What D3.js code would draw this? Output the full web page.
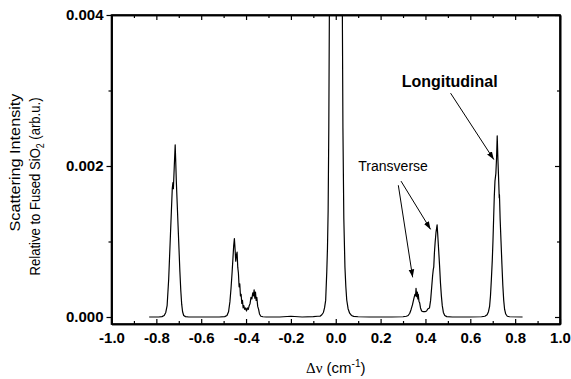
<!DOCTYPE html>
<html>
<head>
<meta charset="utf-8">
<script src="https://cdn.jsdelivr.net/npm/d3@7"></script>
<style>
  html, body { margin: 0; padding: 0; background: #fff; }
  svg { display: block; }
  text { font-family: "Liberation Sans", Arial, sans-serif; fill: #000; }
</style>
</head>
<body>
<svg id="chart" width="571" height="379"></svg>
<script>
// Brillouin spectrum: frequency shift (cm^-1) and scattering intensity
const shift = [
  -0.832, -0.79, -0.775, -0.765, -0.758, -0.752, -0.745, -0.741, -0.737, -0.733, -0.729, -0.726, -0.724,
  -0.720, -0.716, -0.714, -0.711, -0.707, -0.703, -0.699, -0.695, -0.691, -0.687, -0.683, -0.678, -0.670, -0.655,
  -0.60, -0.52, -0.495, -0.485, -0.478, -0.472, -0.467, -0.462, -0.458, -0.455, -0.452, -0.449, -0.446,
  -0.443, -0.440, -0.437, -0.434, -0.431, -0.428, -0.425, -0.422, -0.419, -0.416, -0.413, -0.410, -0.406,
  -0.402, -0.398, -0.394, -0.390, -0.386, -0.382, -0.378, -0.374, -0.370, -0.367, -0.364, -0.361, -0.358,
  -0.355, -0.352, -0.348, -0.344, -0.340, -0.334, -0.325, -0.31,
  -0.25, -0.20, -0.15, -0.10, -0.08, -0.07, -0.062, -0.055, -0.050, -0.045, -0.040, -0.037, -0.034, -0.031,
  -0.0285, -0.025, -0.02, -0.012, 0, 0.012, 0.02, 0.026, 0.0295, 0.032, 0.036, 0.041, 0.045, 0.049, 0.055,
  0.062, 0.07, 0.08, 0.10, 0.15, 0.25,
  0.30, 0.315, 0.323, 0.330, 0.336, 0.342, 0.348, 0.353, 0.356, 0.358, 0.361, 0.364, 0.366, 0.368, 0.371,
  0.374, 0.378, 0.383, 0.390, 0.398, 0.405, 0.409, 0.412, 0.418, 0.423, 0.428, 0.432, 0.435, 0.437, 0.440,
  0.443, 0.447, 0.452, 0.455, 0.459, 0.463, 0.467, 0.471, 0.475, 0.480, 0.486, 0.495, 0.52,
  0.60, 0.65, 0.665, 0.675, 0.681, 0.686, 0.690, 0.694, 0.698, 0.701, 0.704, 0.707, 0.710, 0.714, 0.717,
  0.720, 0.723, 0.726, 0.728, 0.729, 0.730, 0.733, 0.737, 0.741, 0.745, 0.749, 0.753, 0.758, 0.765, 0.775, 0.833
];
const intensity = [
  0, 0, 0.000005, 0.00002, 0.00006, 0.00015, 0.0005, 0.0008, 0.0011, 0.0014, 0.0017, 0.00178, 0.0017,
  0.0020, 0.00228, 0.0021, 0.0018, 0.0015, 0.0012, 0.0009, 0.0006, 0.00035, 0.00017, 0.00007, 0.00002, 0.000005, 0,
  0, 0, 0.000005, 0.00002, 0.00007, 0.0002, 0.00038, 0.0006, 0.0008, 0.00095, 0.00104, 0.0009, 0.00074,
  0.00082, 0.00086, 0.00066, 0.00058, 0.0004, 0.00044, 0.00028, 0.0003, 0.00018, 0.00022, 0.00012, 0.00015, 0.0001,
  0.00012, 0.00008, 0.00012, 0.0001, 0.00015, 0.00018, 0.00026, 0.00024, 0.00032, 0.00028, 0.00036, 0.00025, 0.00033,
  0.00022, 0.00026, 0.00014, 0.0001, 0.00004, 0.00001, 0.000003, 0,
  0, 0.00001, 0, 0.000005, 0.00001, 0.00001, 0.00003, 0.00006, 0.00012, 0.00022, 0.0006, 0.0009, 0.0014, 0.0025,
  0.004, 0.0065, 0.010, 0.015, 0.018, 0.015, 0.010, 0.0065, 0.004, 0.0025, 0.0013, 0.00066, 0.0004, 0.000225, 0.00011,
  0.00005, 0.00002, 0.000008, 0.000003, 0, 0,
  0.000003, 0.00001, 0.00002, 0.00005, 0.0001, 0.00016, 0.00024, 0.0003, 0.00028, 0.00038, 0.00027, 0.00033, 0.00024, 0.0003, 0.00021,
  0.00019, 0.00012, 0.00008, 0.00007, 0.00007, 0.00008, 0.0001, 0.00011, 0.00012, 0.00022, 0.0004, 0.00055, 0.00063, 0.00066, 0.00085,
  0.00098, 0.00112, 0.00122, 0.00108, 0.00088, 0.00068, 0.00045, 0.00028, 0.00015, 0.00006, 0.00002, 0.000005, 0,
  0, 0.000003, 0.00001, 0.00003, 0.00007, 0.00014, 0.00028, 0.0005, 0.00075, 0.001, 0.0013, 0.0016, 0.0018, 0.0019, 0.0021,
  0.0024, 0.0021, 0.00185, 0.00168, 0.00158, 0.00162, 0.0013, 0.001, 0.0007, 0.00042, 0.00022, 0.0001, 0.00004, 0.00001, 0.000003, 0
];

const xTicks = [-1.0, -0.8, -0.6, -0.4, -0.2, 0.0, 0.2, 0.4, 0.6, 0.8, 1.0];
const xMinorTicks = [-0.9, -0.7, -0.5, -0.3, -0.1, 0.1, 0.3, 0.5, 0.7, 0.9];
const yTicks = [0.000, 0.002, 0.004];
const yMinorTicks = [0.001, 0.003];

const xTitleSymbol = "\u0394\u03BD";
const xTitleUnit = " (cm";
const yTitleLine1 = "Scattering Intensity";
const yTitleLine2 = ["Relative to Fused SiO", "2", " (arb.u.)"];
const labelLongitudinal = "Longitudinal";
const labelTransverse = "Transverse";

const width = 571, height = 379;
const margin = { top: 15, right: 11, bottom: 55, left: 111.5 };

const svg = d3.select("#chart");

const x = d3.scaleLinear().domain([-1.0, 1.0]).range([margin.left, width - margin.right]);
const y = d3.scaleLinear().domain([-0.0000927, 0.004]).range([height - margin.bottom, margin.top]);

const fmtX = d => d.toFixed(1);
const fmtY = d => d.toFixed(3);

// clip region for the spectrum
svg.append("defs").append("clipPath").attr("id", "plotClip")
  .append("rect")
  .attr("x", margin.left).attr("y", margin.top)
  .attr("width", width - margin.left - margin.right)
  .attr("height", height - margin.top - margin.bottom);

const points = shift.map((s, i) => [s, intensity[i]]);
const line = d3.line().x(d => x(d[0])).y(d => y(d[1]));

svg.append("path")
  .datum(points)
  .attr("clip-path", "url(#plotClip)")
  .attr("fill", "none")
  .attr("stroke", "#000")
  .attr("stroke-width", 1.2)
  .attr("stroke-linejoin", "round")
  .attr("d", line);

// axes
const bottomY = height - margin.bottom;
const rightX = width - margin.right;

function styleAxis(g) {
  g.select(".domain").attr("stroke", "#000").attr("stroke-width", 1.6);
  g.selectAll(".tick line").attr("stroke", "#000").attr("stroke-width", 1.2);
}

svg.append("g").attr("transform", `translate(0,${bottomY})`)
  .call(d3.axisBottom(x).tickValues(xTicks).tickFormat(fmtX).tickSizeInner(-5).tickSizeOuter(0).tickPadding(8))
  .call(styleAxis)
  .call(g => g.selectAll("text").attr("font-size", 15).attr("font-weight", "bold")
    .attr("font-family", "Liberation Sans, Arial, sans-serif"));

svg.append("g").attr("transform", `translate(0,${bottomY})`)
  .call(d3.axisBottom(x).tickValues(xMinorTicks).tickFormat("").tickSizeInner(-3).tickSizeOuter(0))
  .call(styleAxis);

svg.append("g").attr("transform", `translate(0,${margin.top})`)
  .call(d3.axisTop(x).tickValues(xTicks).tickFormat("").tickSizeInner(-5).tickSizeOuter(0))
  .call(styleAxis);

svg.append("g").attr("transform", `translate(0,${margin.top})`)
  .call(d3.axisTop(x).tickValues(xMinorTicks).tickFormat("").tickSizeInner(-3).tickSizeOuter(0))
  .call(styleAxis);

svg.append("g").attr("transform", `translate(${margin.left},0)`)
  .call(d3.axisLeft(y).tickValues(yTicks).tickFormat(fmtY).tickSizeInner(5).tickSizeOuter(0).tickPadding(3))
  .call(styleAxis)
  .call(g => g.selectAll("text").attr("font-size", 15).attr("font-weight", "bold")
    .attr("font-family", "Liberation Sans, Arial, sans-serif"));

svg.append("g").attr("transform", `translate(${margin.left},0)`)
  .call(d3.axisLeft(y).tickValues(yMinorTicks).tickFormat("").tickSizeInner(3).tickSizeOuter(0))
  .call(styleAxis);

svg.append("g").attr("transform", `translate(${rightX},0)`)
  .call(d3.axisRight(y).tickValues(yTicks).tickFormat("").tickSizeInner(-5).tickSizeOuter(0))
  .call(styleAxis);

svg.append("g").attr("transform", `translate(${rightX},0)`)
  .call(d3.axisRight(y).tickValues(yMinorTicks).tickFormat("").tickSizeInner(-3).tickSizeOuter(0))
  .call(styleAxis);

// make sure the frame is closed at the full y extent
svg.append("rect")
  .attr("x", margin.left).attr("y", margin.top)
  .attr("width", rightX - margin.left).attr("height", bottomY - margin.top)
  .attr("fill", "none").attr("stroke", "#000").attr("stroke-width", 1.6);

// x axis title
const xt = svg.append("text")
  .attr("x", (margin.left + rightX) / 2)
  .attr("y", 373)
  .attr("text-anchor", "middle")
  .attr("font-size", 15);
xt.append("tspan").attr("font-family", "Liberation Serif, Times New Roman, serif").text(xTitleSymbol);
xt.append("tspan").text(xTitleUnit);
xt.append("tspan").attr("font-size", 10).attr("dy", -6).text("-1");
xt.append("tspan").attr("dy", 6).text(")");

// y axis title (two lines, fitted along the axis)
svg.append("text")
  .attr("transform", "translate(20,162.5) rotate(-90)")
  .attr("text-anchor", "middle")
  .attr("font-size", 15)
  .attr("textLength", 138)
  .attr("lengthAdjust", "spacingAndGlyphs")
  .text(yTitleLine1);

const yt = svg.append("text")
  .attr("transform", "translate(40,186.5) rotate(-90)")
  .attr("text-anchor", "middle")
  .attr("font-size", 15)
  .attr("textLength", 178)
  .attr("lengthAdjust", "spacingAndGlyphs");
yt.append("tspan").text(yTitleLine2[0]);
yt.append("tspan").attr("font-size", 10).attr("dy", 4).text(yTitleLine2[1]);
yt.append("tspan").attr("dy", -4).text(yTitleLine2[2]);

// annotations
svg.append("defs").append("marker")
  .attr("id", "arrowHead")
  .attr("viewBox", "0 0 10 10")
  .attr("refX", 10).attr("refY", 5)
  .attr("markerWidth", 8).attr("markerHeight", 8)
  .attr("markerUnits", "userSpaceOnUse")
  .attr("orient", "auto")
  .append("path").attr("d", "M0,1.5 L10,5 L0,8.5 Z").attr("fill", "#000");

function arrow(x0, y0, x1, y1) {
  svg.append("line")
    .attr("x1", x(x0)).attr("y1", y(y0))
    .attr("x2", x(x1)).attr("y2", y(y1))
    .attr("stroke", "#000").attr("stroke-width", 1)
    .attr("marker-end", "url(#arrowHead)");
}

svg.append("text")
  .attr("x", x(0.508)).attr("y", y(0.00304))
  .attr("text-anchor", "middle")
  .attr("font-size", 16).attr("font-weight", "bold")
  .text(labelLongitudinal);
arrow(0.512, 0.002965, 0.705, 0.002085);

svg.append("text")
  .attr("x", x(0.1007)).attr("y", y(0.00193))
  .attr("font-size", 14)
  .text(labelTransverse);
arrow(0.279, 0.001745, 0.343, 0.000525);
arrow(0.291, 0.0018, 0.423, 0.00116);
</script>
</body>
</html>
